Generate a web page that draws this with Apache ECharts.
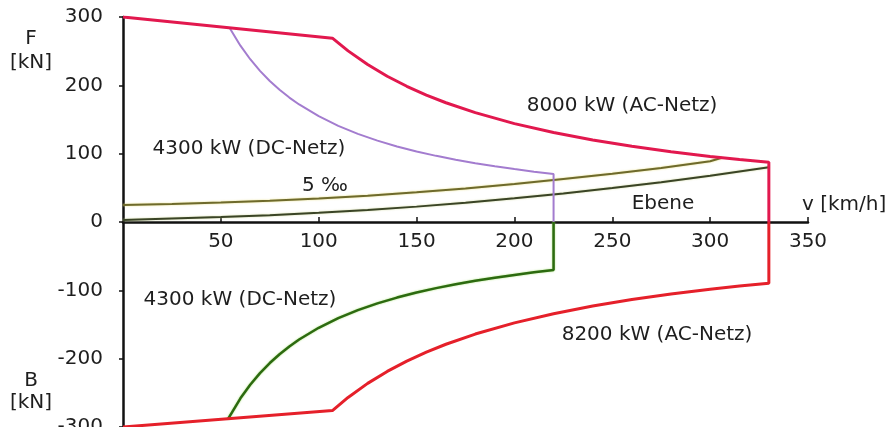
<!DOCTYPE html>
<html>
<head>
<meta charset="utf-8">
<script src="https://cdn.jsdelivr.net/npm/echarts@6/dist/echarts.min.js"></script>
<style>
  html, body { margin: 0; padding: 0; background: #fff; }
  #chart { width: 891px; height: 427px; }
</style>
</head>
<body>
<div id="chart"></div>
<script>
// Zugkraft (F) und Bremskraft (B) über der Geschwindigkeit v [km/h]
const xTicks = [0, 50, 100, 150, 200, 250, 300, 350];
const yTicks = [-300, -200, -100, 0, 100, 200, 300];

// Zugkraft 8000 kW (AC-Netz): [v, F]
const tractionAC = [
  [0, 300], [107, 269], [115, 250.4], [125, 230.4], [135, 213.3], [145, 198.6],
  [155, 185.8], [165, 174.5], [180, 160], [200, 144], [220, 130.9], [240, 120],
  [260, 110.8], [280, 102.9], [300, 96], [315, 91.4], [330, 87.3], [330, 0]
];
// Zugkraft 4300 kW (DC-Netz)
const tractionDC = [
  [54.5, 284], [60, 258], [65, 238.2], [70, 221.1], [75, 206.4], [80, 193.5],
  [85, 182.1], [90, 172], [100, 154.8], [110, 140.7], [120, 129], [130, 119.1],
  [140, 110.6], [150, 103.2], [160, 96.8], [170, 91.1], [180, 86], [190, 81.5],
  [200, 77.4], [210, 73.7], [220, 70.4], [220, 0]
];
// Bremskraft 8200 kW (AC-Netz)
const brakeAC = [
  [0, -300], [107, -276], [115, -256.7], [125, -236.2], [135, -218.7], [145, -203.6],
  [155, -190.5], [165, -178.9], [180, -164], [200, -147.6], [220, -134.2], [240, -123],
  [260, -113.5], [280, -105.4], [300, -98.4], [315, -93.7], [330, -89.5], [330, 0]
];
// Bremskraft 4300 kW (DC-Netz)
const brakeDC = [
  [53.7, -288], [60, -258], [65, -238.2], [70, -221.1], [75, -206.4], [80, -193.5],
  [85, -182.1], [90, -172], [100, -154.8], [110, -140.7], [120, -129], [130, -119.1],
  [140, -110.6], [150, -103.2], [160, -96.8], [170, -91.1], [180, -86], [190, -81.5],
  [200, -77.4], [210, -73.7], [220, -70.4], [220, 0]
];
// Fahrwiderstand in der Ebene
const resistLevel = [
  [0, 3], [25, 5.2], [50, 7.2], [75, 9.9], [100, 13.4], [125, 17.6], [150, 22.5],
  [175, 28.2], [200, 34.6], [225, 41.8], [250, 49.7], [275, 58.3], [300, 67.7], [330, 80]
];
// Fahrwiderstand bei 5 ‰ Steigung
const resistGrade = [
  [0, 25], [25, 26.5], [50, 28.5], [75, 31], [100, 34.5], [125, 38.5], [150, 43.5],
  [175, 49], [200, 55.5], [225, 63], [250, 70.5], [275, 79], [300, 89], [306, 94]
];

const FONT = '"DejaVu Sans", sans-serif';
const TXT = '#1e1e1e';
const GRID_H = 410;

function line(data, color, width, z, shadow) {
  return {
    type: 'line', data, showSymbol: false, symbol: 'none', z,
    lineStyle: { color, width, shadowColor: shadow || 'transparent', shadowBlur: shadow ? 2 : 0 },
    emphasis: { disabled: true }, silent: true, animation: false
  };
}

function label(text, x, y, align) {
  return {
    type: 'text', x, y, silent: true,
    style: { text, font: '20px ' + FONT, fill: TXT, align: align || 'center', verticalAlign: 'middle' }
  };
}

const chart = echarts.init(document.getElementById('chart'), null, { renderer: 'canvas' });
chart.setOption({
  backgroundColor: '#ffffff',
  animation: false,
  grid: { left: 123, top: 17, width: 685, height: GRID_H, containLabel: false, outerBoundsMode: 'none' },
  xAxis: {
    type: 'value', min: xTicks[0], max: xTicks[xTicks.length - 1], interval: 50,
    position: 'bottom',
    // the horizontal axis sits on F = 0, i.e. halfway up the plot
    offset: -GRID_H / 2,
    axisLine: { onZero: false, lineStyle: { color: '#111', width: 2.5 } },
    axisTick: { show: true, inside: true, length: 5, lineStyle: { color: '#111', width: 1.5 } },
    axisLabel: { showMinLabel: false, margin: 10, fontSize: 20, fontFamily: FONT, color: TXT },
    splitLine: { show: false }
  },
  yAxis: {
    type: 'value', min: yTicks[0], max: yTicks[yTicks.length - 1], interval: 100,
    axisLine: { show: true, onZero: false, lineStyle: { color: '#111', width: 2.5 } },
    axisTick: { show: true, length: 4, lineStyle: { color: '#111', width: 1.5 } },
    axisLabel: { margin: 20, fontSize: 20, fontFamily: FONT, color: TXT },
    splitLine: { show: false }
  },
  series: [
    line(resistGrade, '#6e6a2c', 2, 2, 'rgba(230,220,120,0.9)'),
    line(resistLevel, '#3a4426', 2, 2, 'rgba(200,210,140,0.8)'),
    line(tractionDC, '#a37ccf', 2, 3),
    line(brakeDC, '#2c6a10', 2.5, 3, 'rgba(150,220,90,0.8)'),
    line(tractionAC, '#e2184e', 3, 4),
    line(brakeAC, '#e5202a', 3, 4)
  ],
  graphic: [
    label('F', 31, 39),
    label('[kN]', 31, 63),
    label('B', 31, 381),
    label('[kN]', 31, 403),
    label('v [km/h]', 802, 205, 'left'),
    label('Ebene', 663, 204),
    label('5 ‰', 325, 186),
    label('4300 kW (DC-Netz)', 249, 149),
    label('8000 kW (AC-Netz)', 622, 106),
    label('4300 kW (DC-Netz)', 240, 300),
    label('8200 kW (AC-Netz)', 657, 335)
  ]
});
</script>
</body>
</html>
